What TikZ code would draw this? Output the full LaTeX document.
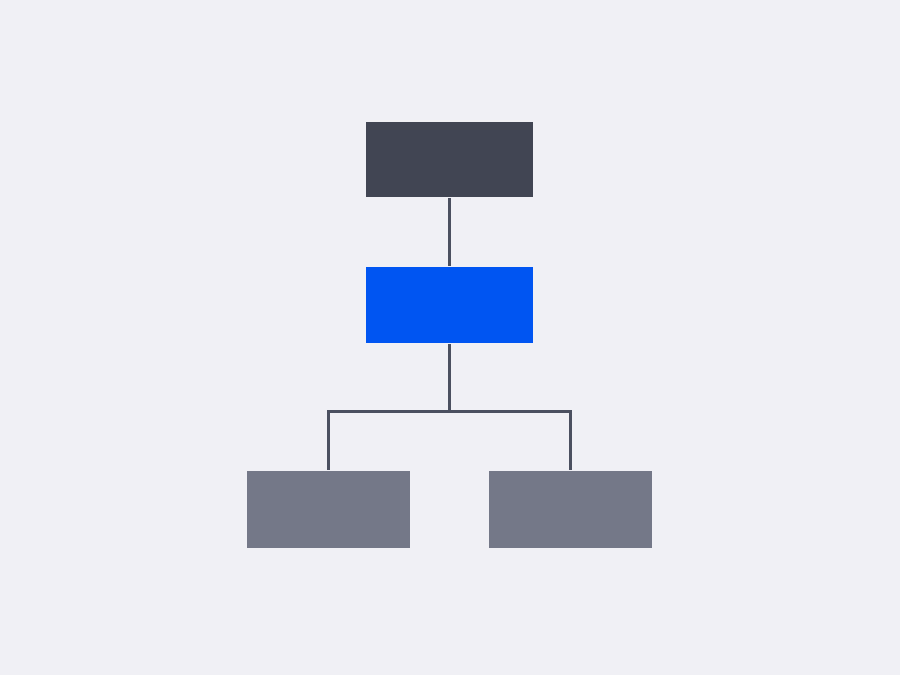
\documentclass[tikz,border=0pt]{standalone}
\usepackage{tikz}
\usetikzlibrary{shapes,arrows}
\definecolor{bgcol}{HTML}{F0F0F5}
\definecolor{rootcol}{HTML}{414553}
\definecolor{midcol}{HTML}{0055F2}
\definecolor{leafcol}{HTML}{747888}
\definecolor{linecol}{HTML}{4B5060}
\begin{document}
\begin{tikzpicture}[x=0.02cm,y=-0.02cm,
                every path/.style={line width=0.06cm,draw=linecol},
                every node/.style={rectangle,inner sep=0pt,draw=none}]
  % background, fixes the page size
  \fill[bgcol,draw=none] (0,0) rectangle (900,675);
  \node[fill=rootcol,minimum width=3.34cm,minimum height=1.5cm]  (root)  at (449.5,159.5) {};
  \node[fill=midcol,minimum width=3.34cm,minimum height=1.52cm]  (mid)   at (449.5,305)   {};
  \node[fill=leafcol,minimum width=3.26cm,minimum height=1.54cm] (left)  at (328.5,509.5) {};
  \node[fill=leafcol,minimum width=3.26cm,minimum height=1.54cm] (right) at (570.5,509.5) {};
  \coordinate (fork) at (449.5,412);
  \draw (root) -- (mid);
  \draw (mid) -- (fork);
  \draw (left.north) |- (fork) -| (right.north);
\end{tikzpicture}
\end{document}
